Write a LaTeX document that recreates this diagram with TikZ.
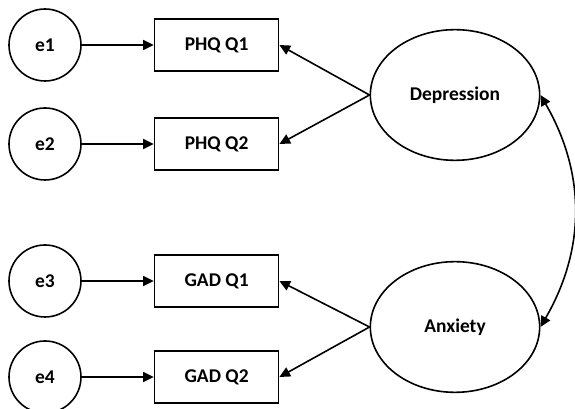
\documentclass[tikz,border=0pt]{standalone}
\usepackage{fontspec}
\setmainfont{Carlito}
\usepackage{tikz}
\usetikzlibrary{arrows.meta}
\usetikzlibrary{positioning}
\usetikzlibrary{shapes.geometric}

\tikzset{
	err/.style={draw,circle,line width=1.2pt,inner sep=0pt,minimum size=54pt},
	item/.style={draw,rectangle,line width=1.2pt,inner sep=0pt,minimum width=93pt,minimum height=39pt},
	factor/.style={draw,ellipse,line width=1.2pt,inner sep=0pt,minimum width=127pt,minimum height=98pt},
	path/.style={line width=1.2pt,-{Triangle[length=8pt,width=7.5pt]}}
}

\begin{document}
\begin{tikzpicture}[x=0.75pt,y=-0.75pt,font=\fontsize{14.6}{16}\selectfont\bfseries]
	 \useasboundingbox (0,0) rectangle (575,409);
	 \node[err] (e1) at (45,45) {e1};
	 \node[err] (e2) at (45,144) {e2};
	 \node[err] (e3) at (45,281) {e3};
	 \node[err] (e4) at (45,377) {e4};
	 \node[item] (phq1) [right=54pt of e1] {PHQ Q1};
	 \node[item] (phq2) [right=54pt of e2] {PHQ Q2};
	 \node[item] (gad1) [right=54pt of e3] {GAD Q1};
	 \node[item] (gad2) [right=54pt of e4] {GAD Q2};
	 \node[factor] (dep) at (455,95) {Depression};
	 \node[factor] (anx) at (455,327) {Anxiety};
	 % error terms
	 \draw[path] (e1) -- (phq1);
	 \draw[path] (e2) -- (phq2);
	 \draw[path] (e3) -- (gad1);
	 \draw[path] (e4) -- (gad2);
	 % loadings
	 \draw[path] (dep.west) -- (phq1.east);
	 \draw[path] (dep.west) -- (phq2.east);
	 \draw[path] (anx.west) -- (gad1.east);
	 \draw[path] (anx.west) -- (gad2.east);
	 % covariance
	 \draw[line width=1.2pt,{Triangle[length=8pt,width=7.5pt]}-{Triangle[length=8pt,width=7.5pt]}] (dep.east) to[out=-60,in=60] (anx.east);
\end{tikzpicture}
\end{document}
